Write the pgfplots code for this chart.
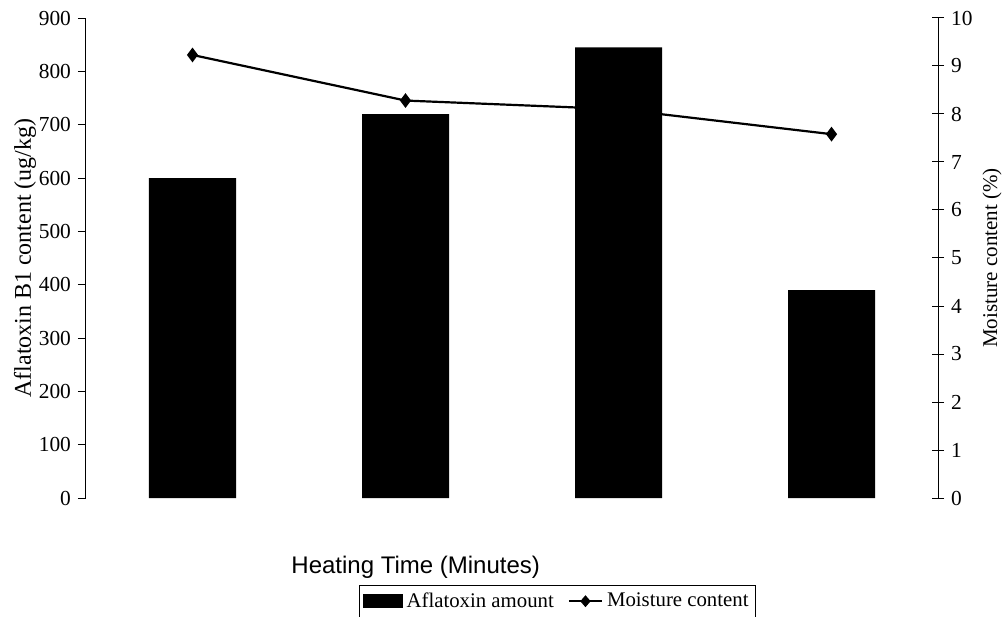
\documentclass[border=0pt]{standalone}
\usepackage{pgfplots}
\pgfplotsset{compat=1.18}
\usepackage{fontspec}
\setmainfont{Liberation Serif}
\newfontfamily\arialfont{Liberation Sans}

\begin{document}
\begin{tikzpicture}
\useasboundingbox (-43pt,-59pt) rectangle (459.5pt,249pt);
% right axis: moisture content (drawn first so the bars cover the line)
\begin{axis}[
  at={(0,0)}, anchor=south west,
  scale only axis, width=426pt, height=240pt,
  xmin=-0.5, xmax=3.5, ymin=0, ymax=10,
  axis x line=none,
  axis y line*=right,
  ytick={0,1,...,10},
  tick align=center, major tick length=6pt,
  y axis line style={line width=0.5pt},
  every tick/.style={black, line width=0.5pt},
  /pgf/number format/assume math mode=true,
  yticklabel style={font=\fontsize{10.7}{12}\selectfont},
  ylabel={Moisture content (\%)},
  ylabel style={font=\fontsize{10.5}{12}\selectfont, at={(axis description cs:1.0634,0.5)}, anchor=center},
]
\addplot[black, line width=1.1pt, mark=diamond*, mark size=2.8pt] coordinates {(0,9.23) (1,8.28) (2,8.1) (3,7.58)};
\end{axis}
% left axis: aflatoxin bars
\begin{axis}[
  at={(0,0)}, anchor=south west,
  scale only axis, width=426pt, height=240pt,
  xmin=-0.5, xmax=3.5, ymin=0, ymax=900,
  axis y line*=left, axis x line*=bottom,
  x axis line style={draw=none},
  xtick=\empty,
  ytick={0,100,...,900},
  tick align=outside, major tick length=4pt,
  y axis line style={line width=0.5pt},
  every tick/.style={black, line width=0.5pt},
  /pgf/number format/assume math mode=true,
  yticklabel style={font=\fontsize{10.7}{12}\selectfont},
  ylabel={Aflatoxin B1 content (ug/kg)},
  ylabel style={font=\fontsize{12}{14}\selectfont, at={(axis description cs:-0.0716,0.5)}, anchor=center},
  xlabel={\arialfont Heating Time (Minutes)},
  xlabel style={font=\fontsize{12}{14}\selectfont, at={(axis description cs:0.387,-0.144)}, anchor=center},
  legend columns=2,
  legend style={at={(axis description cs:0.5535,-0.181)}, anchor=north, draw=black, line width=0.5pt,
    font=\fontsize{10.4}{12}\selectfont, inner sep=1.5pt,
    /tikz/every even column/.append style={column sep=5pt}},
]
\addplot[ybar, bar width=43.5pt, fill=black, draw=none,
  legend image code/.code={\fill[black] (0pt,-3.5pt) rectangle (20pt,3.5pt);}]
  coordinates {(0,600) (1,720) (2,845) (3,390)};
\addlegendentry{Aflatoxin amount}
\addlegendimage{black, legend image code/.code={
  \draw[black, line width=1.1pt] (0pt,0pt) -- (16.5pt,0pt);
  \fill[black] (8.25pt,2.6pt) -- (10.5pt,0pt) -- (8.25pt,-2.6pt) -- (6pt,0pt) -- cycle;}}
\addlegendentry{Moisture content}
\end{axis}
\end{tikzpicture}
\end{document}
